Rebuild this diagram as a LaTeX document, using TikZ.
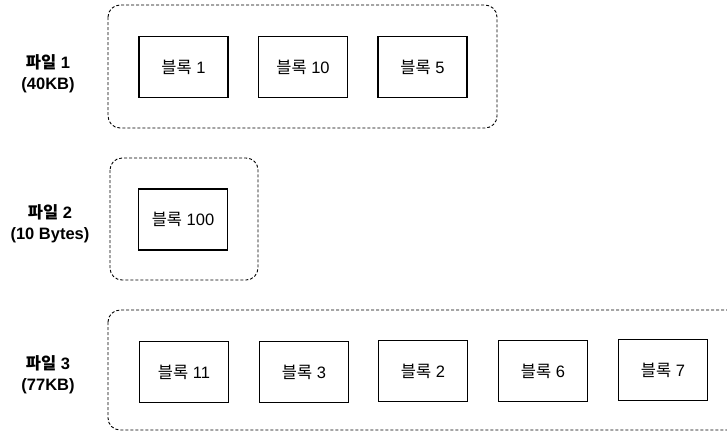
\documentclass[tikz,border=0pt]{standalone}
\usepackage{fontspec}
\setmainfont{Liberation Sans}
\newfontfamily\kr{Noto Sans CJK KR}
\begin{document}
\begin{tikzpicture}[x=1pt,y=-1pt,
  grp/.style={draw, line width=0.9pt, dash pattern=on 3pt off 2pt, rounded corners=12pt},
  blk/.style={draw, line width=1.1pt, minimum width=89pt, minimum height=61pt, inner sep=0pt, font=\fontsize{16.5}{19}\selectfont},
  lbl/.style={align=center, font=\fontsize{16.5}{21}\selectfont\bfseries}]
\useasboundingbox (0,0) rectangle (727,432);
\clip (0,0) rectangle (727,432);
% groups
\draw[grp] (108,5) rectangle (497,128);
\draw[grp] (110,158) rectangle (258,280);
\draw[grp] (108,310) rectangle (760,430);
% labels
\node[lbl] (f1) at (48,74) {{\kr 파일} 1\\(40KB)};
\node[lbl] (f2) at (50,224) {{\kr 파일} 2\\(10 Bytes)};
\node[lbl] (f3) at (48,375) {{\kr 파일} 3\\(77KB)};
% row 1
\node[blk] (b1) at (183.5,67) {{\kr 블록} 1};
\node[blk] (b10) at (303,67) {{\kr 블록} 10};
\node[blk] (b5) at (422.5,67) {{\kr 블록} 5};
% row 2
\node[blk] (b100) at (183,219.5) {{\kr 블록} 100};
% row 3
\node[blk] (b11) at (184,372) {{\kr 블록} 11};
\node[blk] (b3) at (304,372) {{\kr 블록} 3};
\node[blk] (b2) at (423,371) {{\kr 블록} 2};
\node[blk] (b6) at (543,371) {{\kr 블록} 6};
\node[blk] (b7) at (663,370) {{\kr 블록} 7};
\end{tikzpicture}
\end{document}
